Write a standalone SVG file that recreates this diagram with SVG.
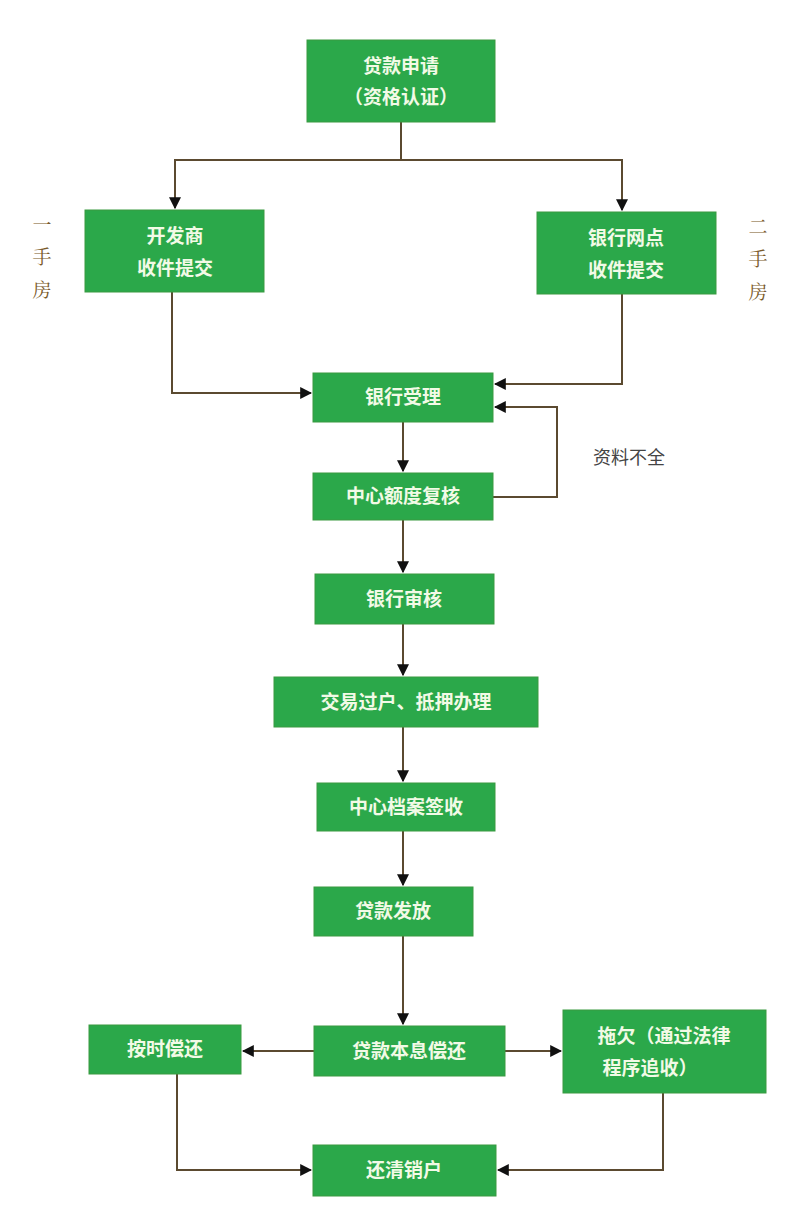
<svg xmlns="http://www.w3.org/2000/svg" width="800" height="1232" viewBox="0 0 800 1232">
<style>
.n{fill:#2ba84a;stroke:#3a9a40;stroke-width:1}
.t{fill:#f2fae6;font-family:"Noto Sans CJK SC",sans-serif;font-weight:bold;font-size:19px;text-anchor:middle}
.s{fill:#7a5a2a;font-family:"Noto Serif CJK SC","Noto Sans CJK SC",serif;font-size:19px;text-anchor:middle}
.c{fill:none;stroke:#5b4a30;stroke-width:2}
</style>
<defs><marker id="a" viewBox="0 0 10 10" refX="9" refY="5" markerWidth="6" markerHeight="6" orient="auto" markerUnits="strokeWidth"><path d="M0,0L10,5L0,10z" fill="#111"/></marker></defs>
<rect width="800" height="1232" fill="#fff"/>
<g id="connectors">
<path class="c" d="M401,122V160H175V208" marker-end="url(#a)"/>
<path class="c" d="M401,160H622V210" marker-end="url(#a)"/>
<path class="c" d="M172,292V393H311" marker-end="url(#a)"/>
<path class="c" d="M622,294V384H495" marker-end="url(#a)"/>
<path class="c" d="M403,422V471" marker-end="url(#a)"/>
<path class="c" d="M493,497H557V407H495" marker-end="url(#a)"/>
<path class="c" d="M403,520V572" marker-end="url(#a)"/>
<path class="c" d="M403,624V675" marker-end="url(#a)"/>
<path class="c" d="M403,727V781" marker-end="url(#a)"/>
<path class="c" d="M403,831V885" marker-end="url(#a)"/>
<path class="c" d="M403,936V1024" marker-end="url(#a)"/>
<path class="c" d="M314,1051H243" marker-end="url(#a)"/>
<path class="c" d="M505,1051H561" marker-end="url(#a)"/>
<path class="c" d="M177,1074V1170H311" marker-end="url(#a)"/>
<path class="c" d="M663,1093V1170H498" marker-end="url(#a)"/>
</g>
<g id="n1"><rect class="n" x="307" y="40" width="188" height="82"/><text class="t" x="401" y="73">贷款申请</text><text class="t" x="401" y="104">（资格认证）</text></g>
<g id="n2"><rect class="n" x="85" y="210" width="179" height="82"/><text class="t" x="175" y="243">开发商</text><text class="t" x="175" y="275">收件提交</text></g>
<g id="n3"><rect class="n" x="537" y="212" width="179" height="82"/><text class="t" x="626" y="245">银行网点</text><text class="t" x="626" y="277">收件提交</text></g>
<g id="n4"><rect class="n" x="313" y="373" width="180" height="49"/><text class="t" x="403" y="404">银行受理</text></g>
<g id="n5"><rect class="n" x="313" y="473" width="180" height="47"/><text class="t" x="403" y="503">中心额度复核</text></g>
<g id="n6"><rect class="n" x="315" y="574" width="179" height="50"/><text class="t" x="404" y="606">银行审核</text></g>
<g id="n7"><rect class="n" x="274" y="677" width="264" height="50"/><text class="t" x="406" y="709">交易过户、抵押办理</text></g>
<g id="n8"><rect class="n" x="317" y="783" width="178" height="48"/><text class="t" x="406" y="814">中心档案签收</text></g>
<g id="n9"><rect class="n" x="314" y="887" width="159" height="49"/><text class="t" x="393" y="918">贷款发放</text></g>
<g id="n10"><rect class="n" x="314" y="1026" width="191" height="50"/><text class="t" x="409" y="1058">贷款本息偿还</text></g>
<g id="n11"><rect class="n" x="89" y="1025" width="152" height="49"/><text class="t" x="165" y="1056">按时偿还</text></g>
<g id="n12"><rect class="n" x="563" y="1010" width="203" height="83"/><text class="t" x="664" y="1043">拖欠（通过法律</text><text class="t" x="650" y="1075">程序追收）</text></g>
<g id="n13"><rect class="n" x="313" y="1145" width="183" height="51"/><text class="t" x="404" y="1177">还清销户</text></g>
<g id="labels">
<text class="s" x="42" y="232">一</text><text class="s" x="42" y="264">手</text><text class="s" x="42" y="297">房</text>
<text class="s" x="758" y="234">二</text><text class="s" x="758" y="266">手</text><text class="s" x="758" y="299">房</text>
<text x="629" y="464" style="fill:#444;font-family:'Noto Sans CJK SC',sans-serif;font-size:18px;text-anchor:middle">资料不全</text>
</g>
</svg>
